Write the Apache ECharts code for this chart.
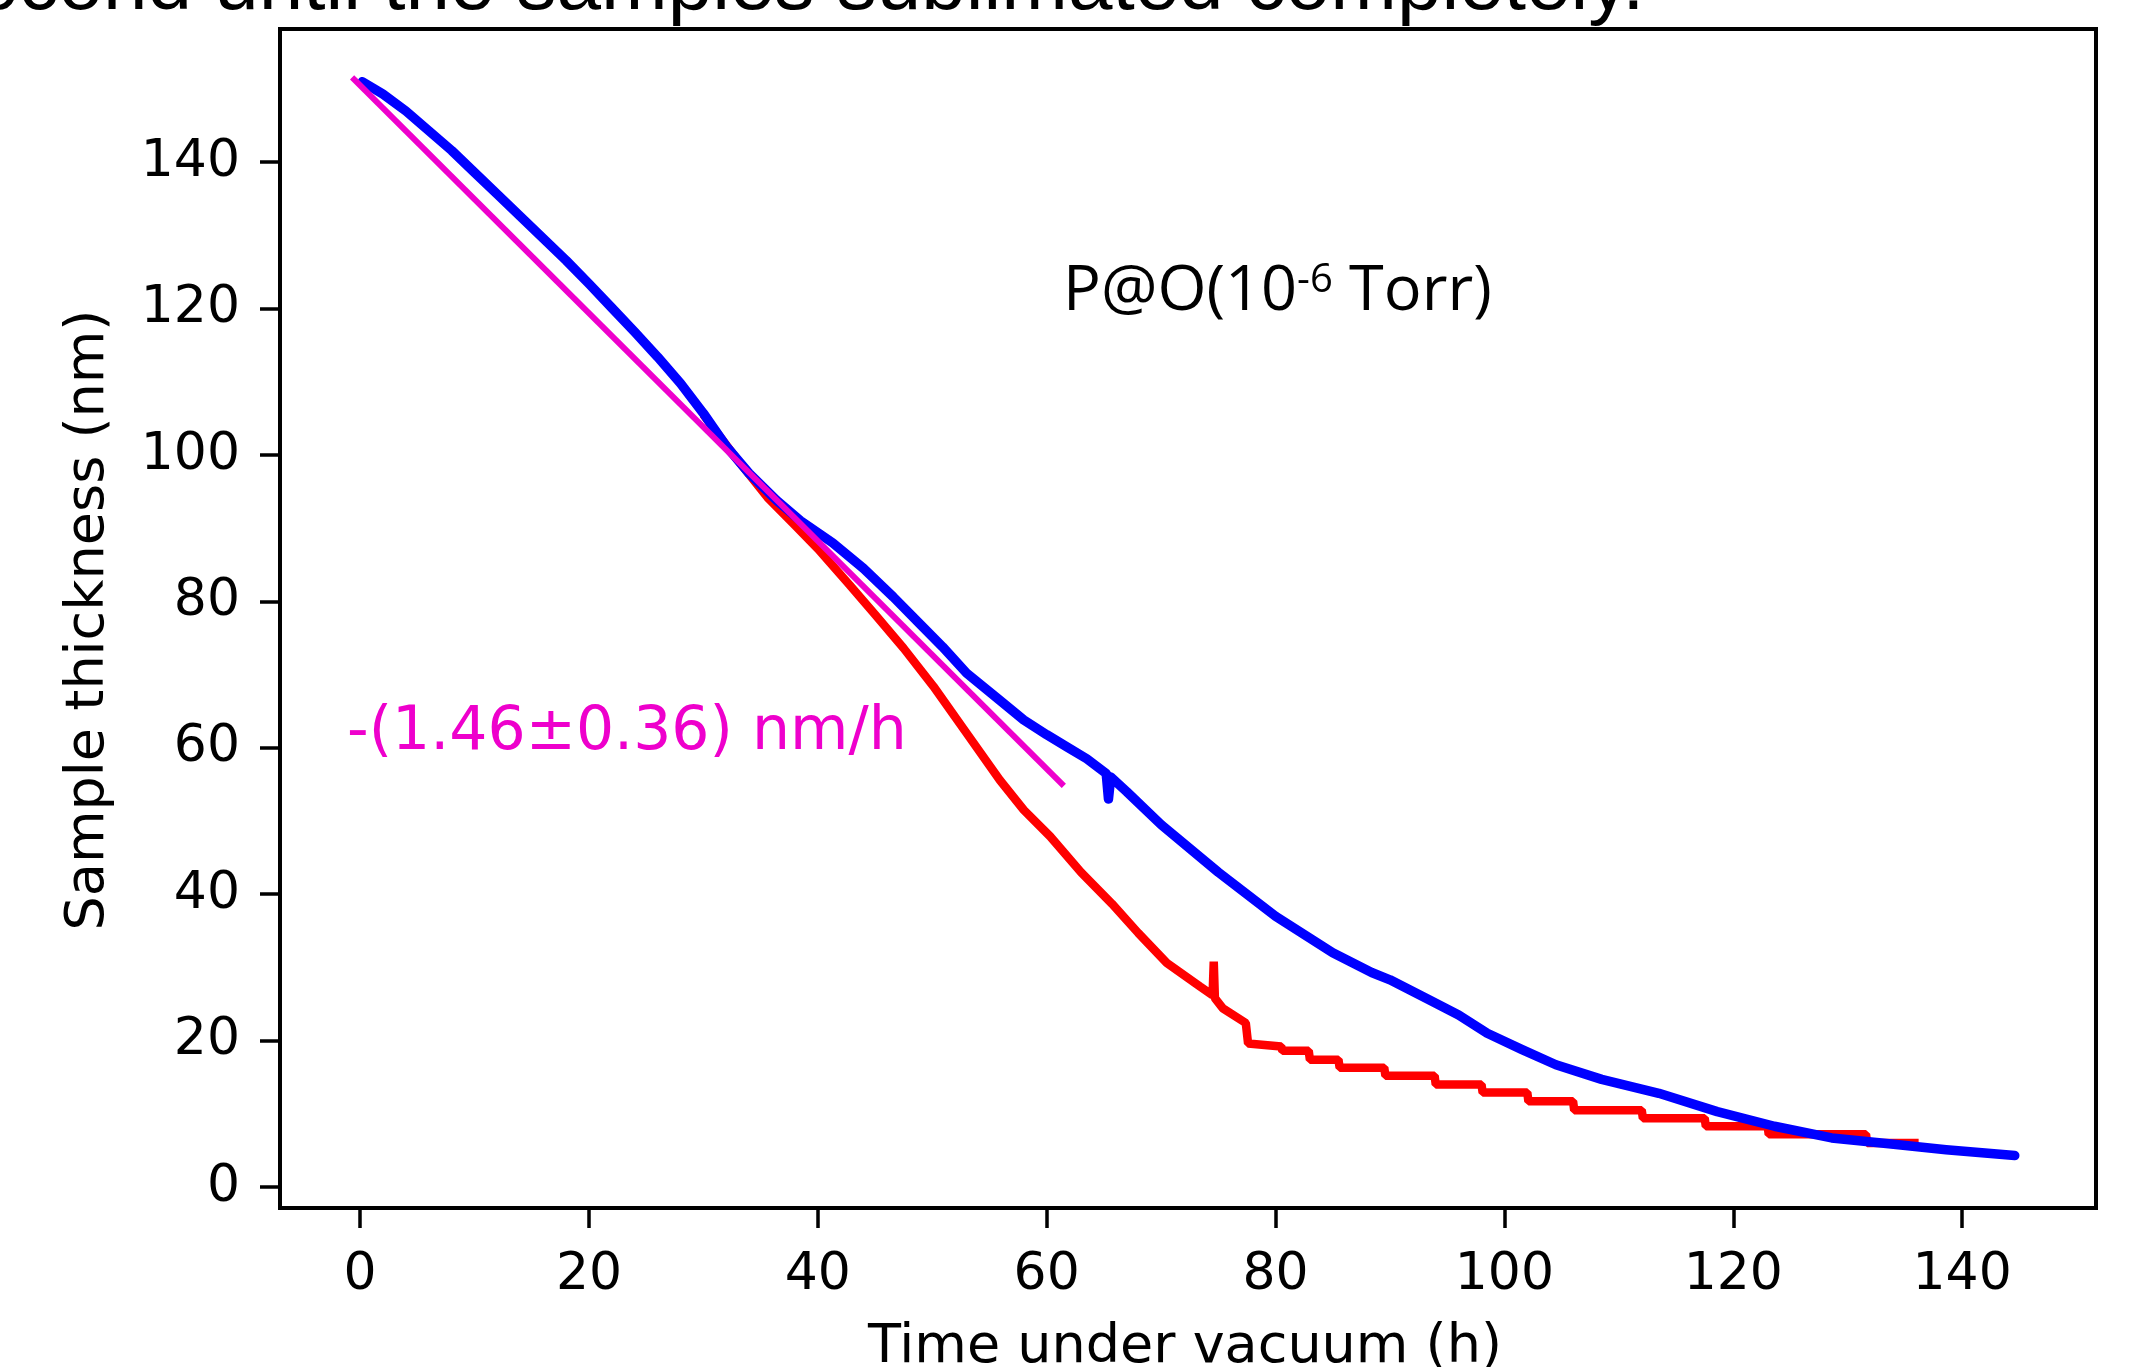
<!DOCTYPE html>
<html>
<head>
<meta charset="utf-8">
<script src="https://cdn.jsdelivr.net/npm/echarts@6/dist/echarts.min.js"></script>
<style>
html,body{margin:0;padding:0;background:#fff;}
#chart{width:2129px;height:1367px;}
</style>
</head>
<body>
<div id="chart"></div>
<script>
// ---- data ----
const xTickValues = [0, 20, 40, 60, 80, 100, 120, 140];
const yTickValues = [0, 20, 40, 60, 80, 100, 120, 140];

// blue series: time (h) / thickness (nm)
const blueTime = [0.2, 2, 4, 6, 8, 10, 12, 14, 16, 18, 20, 22, 24, 26, 28, 30, 32, 34, 36.4, 38.5, 41.3, 44, 46.6, 49, 50.9, 53, 55.9, 58, 60, 61.8, 63.5, 65.2, 65.4, 65.6, 67, 70, 75, 80, 85, 88.4, 90, 93.5, 96, 98.5, 101.5, 104.5, 108.5, 113.5, 118.6, 123.6, 128.6, 133.6, 138.6, 144.6];
const blueThickness = [151.0, 149.3, 147.0, 144.3, 141.6, 138.6, 135.6, 132.6, 129.6, 126.6, 123.4, 120.1, 116.8, 113.4, 109.8, 105.7, 101.2, 97.5, 93.8, 91.0, 88.0, 84.5, 80.6, 76.8, 73.8, 70.2, 66.5, 63.8, 61.8, 60.1, 58.5, 56.5, 53.0, 56.0, 54.0, 49.5, 43.0, 37.0, 32.0, 29.3, 28.3, 25.5, 23.5, 21.0, 18.8, 16.7, 14.7, 12.8, 10.3, 8.3, 6.7, 5.9, 5.1, 4.3];

// red series: time (h) / thickness (nm)
const redTime = [30, 33, 35.6, 38, 40, 42.8, 45, 47.5, 50.1, 53, 55.9, 58, 60.3, 63, 65.7, 68, 70.5, 73.4, 74.5, 74.6, 74.7, 75.4, 77.4, 77.6, 80.5, 80.6, 82.9, 83.0, 85.5, 85.6, 89.5, 89.6, 93.9, 94.0, 98.0, 98.1, 102.0, 102.1, 106.0, 106.1, 112.0, 112.1, 117.5, 117.6, 123.0, 123.1, 131.6, 131.7, 136.2];
const redThickness = [105.5, 99.3, 94.2, 90.4, 87.2, 82.2, 78.2, 73.6, 68.4, 62.0, 55.6, 51.5, 47.9, 43.0, 38.7, 34.7, 30.6, 27.4, 26.2, 30.8, 25.8, 24.4, 22.4, 19.6, 19.2, 18.6, 18.6, 17.4, 17.4, 16.3, 16.3, 15.2, 15.2, 14.0, 14.0, 12.9, 12.9, 11.7, 11.7, 10.5, 10.5, 9.4, 9.4, 8.3, 8.3, 7.2, 7.2, 6.0, 6.0];

// linear fit (magenta)
const fitTime = [-0.7, 61.5];
const fitThickness = [151.6, 54.8];

const fitLabel = '-(1.46\u00b10.36) nm/h';
const pressureLabel = ['P@O(10', '-6', ' Torr)'];
const xAxisTitle = 'Time under vacuum (h)';
const yAxisTitle = 'Sample thickness (nm)';
const captionText = 'second until the samples sublimated completely.';

// ---- build ----
const pairs = (xs, ys) => xs.map((x, i) => [x, ys[i]]);

const chart = echarts.init(document.getElementById('chart'), null, {renderer: 'canvas'});

const axisCommon = {
  type: 'value',
  axisLine: {show: false, onZero: false},
  splitLine: {show: false},
};

const option = {
  animation: false,
  backgroundColor: '#ffffff',
  grid: {left: 280, right: 33, top: 29, bottom: 159, show: true, borderColor: '#000', borderWidth: 4, backgroundColor: 'transparent'},
  xAxis: Object.assign({}, axisCommon, {
    min: -7, max: 151.7,
    axisTick: {show: true, inside: false, length: 20, lineStyle: {color: '#000', width: 3.5}, customValues: xTickValues},
    axisLabel: {customValues: xTickValues, margin: 41, color: '#000', fontSize: 52, fontFamily: 'DejaVu Sans'}
  }),
  yAxis: Object.assign({}, axisCommon, {
    min: -2.87, max: 158.2,
    axisTick: {show: true, inside: false, length: 20, lineStyle: {color: '#000', width: 3.5}, customValues: yTickValues},
    axisLabel: {customValues: yTickValues, margin: 40, color: '#000', fontSize: 52, fontFamily: 'DejaVu Sans'}
  }),
  series: [
    {type: 'line', name: 'red', data: pairs(redTime, redThickness), showSymbol: false, symbol: 'none', clip: true, silent: true, z: 2,
     lineStyle: {color: '#ff0000', width: 8.5}, itemStyle: {color: '#ff0000'}},
    {type: 'line', name: 'blue', data: pairs(blueTime, blueThickness), showSymbol: false, symbol: 'none', clip: true, silent: true, z: 3,
     lineStyle: {color: '#0000ff', width: 9.5, join: 'round', cap: 'round'}, itemStyle: {color: '#0000ff'}},
    {type: 'line', name: 'fit', data: pairs(fitTime, fitThickness), showSymbol: false, symbol: 'none', clip: true, silent: true, z: 4,
     lineStyle: {color: '#ee00cc', width: 6}, itemStyle: {color: '#ee00cc'}}
  ],
  graphic: [
    {type: 'text', x: -66, y: -13.2, silent: true,
     style: {text: captionText, fontSize: 80, fontFamily: 'Liberation Sans, Arial', fill: '#000', align: 'left', verticalAlign: 'middle', textAlign: 'left', textVerticalAlign: 'middle'}},
    {type: 'text', x: 1185, y: 1348, silent: true,
     style: {text: xAxisTitle, fontSize: 54, fontFamily: 'DejaVu Sans', fill: '#000', align: 'center', verticalAlign: 'middle', textAlign: 'center', textVerticalAlign: 'middle'}},
    {type: 'text', x: 89, y: 620, rotation: Math.PI / 2, silent: true,
     style: {text: yAxisTitle, fontSize: 54, fontFamily: 'DejaVu Sans', fill: '#000', align: 'center', verticalAlign: 'middle', textAlign: 'center', textVerticalAlign: 'middle'}},
    {type: 'text', x: 347, y: 733.6, silent: true,
     style: {text: fitLabel, fontSize: 60, fontFamily: 'DejaVu Sans', fill: '#ee00cc', align: 'left', verticalAlign: 'middle', textAlign: 'left', textVerticalAlign: 'middle'}},
    {type: 'text', x: 1063, y: 292, silent: true,
     style: {
       text: '{a|' + pressureLabel[0] + '}{s|' + pressureLabel[1] + '}{a|' + pressureLabel[2] + '}',
       align: 'left', verticalAlign: 'middle', textAlign: 'left', textVerticalAlign: 'middle',
       fill: '#000',
       rich: {
         a: {fontSize: 63, lineHeight: 63, fontFamily: 'Open Sans', color: '#000', fill: '#000'},
         s: {fontSize: 40, lineHeight: 31, fontFamily: 'Open Sans', color: '#000', fill: '#000', verticalAlign: 'top'}
       }
     }}
  ]
};
chart.setOption(option);
</script>
</body>
</html>
